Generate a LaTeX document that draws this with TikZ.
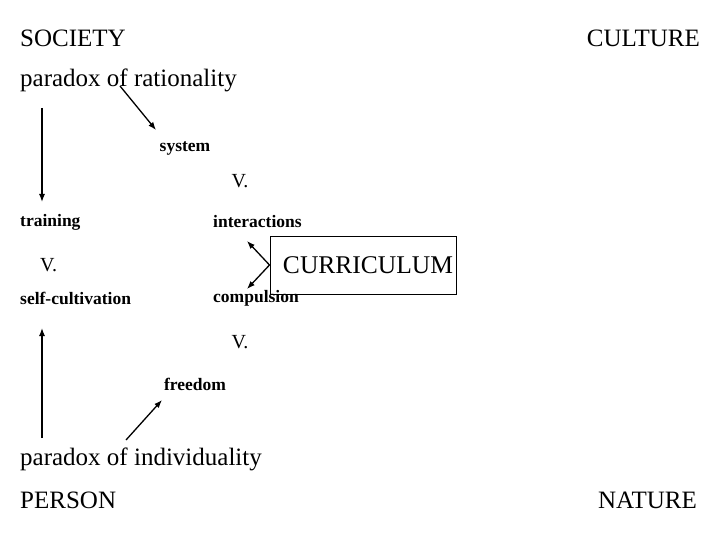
\documentclass[tikz,border=0pt]{standalone}
\usepackage{fontspec}
\setmainfont{Liberation Serif}
\usetikzlibrary{arrows.meta}
\begin{document}
\begin{tikzpicture}[x=1pt,y=-1pt,
  big/.style={font=\fontsize{25}{27}\selectfont,inner sep=0pt},
  small/.style={font=\bfseries\fontsize{17.5}{19}\selectfont,inner sep=0pt},
  vee/.style={font=\fontsize{20}{22}\selectfont,inner sep=0pt},
  arr/.style={-{Latex[length=8pt,width=6pt]},line width=1.3pt}]
\useasboundingbox (0,0) rectangle (720,540);
\node[big,anchor=west] (soc) at (20,38) {SOCIETY};
\node[big,anchor=east] (cul) at (700,38) {CULTURE};
\node[big,anchor=west] (pr) at (20,80) {paradox of rationality};
\node[small] (sys) at (185,148) {system};
\node[vee] (v1) at (240,181) {V.};
\node[small,anchor=west] (tr) at (20,222) {training};
\node[small,anchor=west] (int) at (213,222) {interactions};
\node[vee,anchor=west] (v2) at (40,265) {V.};
\node[draw,line width=1pt,minimum width=186pt,minimum height=58pt,font=\fontsize{25.5}{27}\selectfont,inner sep=0pt] (cur) at (363,265) {\hspace*{10pt}CURRICULUM};
\node[small,anchor=west] (sc) at (20,298) {self-cultivation};
\node[small,anchor=west] (com) at (213,298) {compulsion};
\node[vee] (v3) at (240,342) {V.};
\node[small] (fr) at (195,384) {freedom};
\node[big,anchor=west] (pi) at (20,459) {paradox of individuality};
\node[big,anchor=west] (per) at (20,500) {PERSON};
\node[big,anchor=east] (nat) at (697,500) {NATURE};
\coordinate (a1) at (42,108); \coordinate (a1e) at (42,202);
\coordinate (b1) at (120,86); \coordinate (b1e) at (156,130);
\coordinate (a2) at (42,438); \coordinate (a2e) at (42,328);
\coordinate (b2) at (126,440); \coordinate (b2e) at (162,400);
\coordinate (k) at (cur.west);
\coordinate (ku) at (247,241); \coordinate (kd) at (247,289);
\draw[arr] (a1) -- (a1e);
\draw[arr] (b1) -- (b1e);
\draw[arr] (a2) -- (a2e);
\draw[arr] (b2) -- (b2e);
\draw[arr] (k) -- (ku);
\draw[arr] (k) -- (kd);
\end{tikzpicture}
\end{document}
